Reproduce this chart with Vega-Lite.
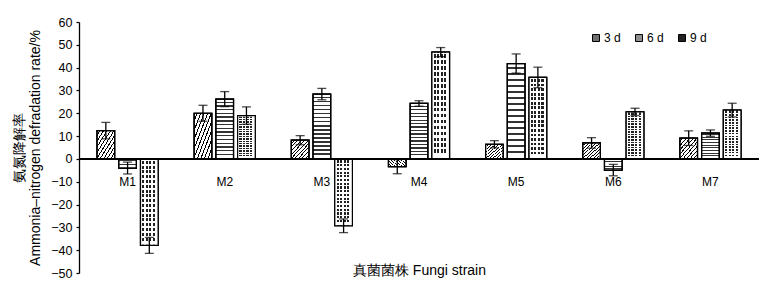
{
  "$schema": "https://vega.github.io/schema/vega-lite/v6.json",
  "autosize": "none",
  "width": 680,
  "height": 251,
  "padding": {"left": 79, "top": 22, "right": 19, "bottom": 21},
  "background": "white",
  "config": {
    "font": "Liberation Sans",
    "view": {"stroke": null},
    "axis": {"labelFont": "Liberation Sans", "titleFont": "Liberation Sans", "labelColor": "black", "titleColor": "black", "titleFontWeight": "normal", "domainColor": "black", "tickColor": "black"},
    "axisY": {"labelOverlap": false, "labelBound": false, "labelFlush": false}
  },
  "data": {
    "values": [
      {"strain": "M1", "day": "3 d", "rate": 12.4, "lo": 8.8, "hi": 16.0},
      {"strain": "M1", "day": "6 d", "rate": -4.0, "lo": -6.6, "hi": -1.4},
      {"strain": "M1", "day": "9 d", "rate": -37.9, "lo": -41.4, "hi": -34.4},
      {"strain": "M2", "day": "3 d", "rate": 20.0, "lo": 16.5, "hi": 23.5},
      {"strain": "M2", "day": "6 d", "rate": 26.2, "lo": 22.9, "hi": 29.5},
      {"strain": "M2", "day": "9 d", "rate": 19.0, "lo": 15.2, "hi": 22.8},
      {"strain": "M3", "day": "3 d", "rate": 8.2, "lo": 6.2, "hi": 10.2},
      {"strain": "M3", "day": "6 d", "rate": 28.4, "lo": 25.9, "hi": 30.9},
      {"strain": "M3", "day": "9 d", "rate": -29.3, "lo": -32.3, "hi": -26.3},
      {"strain": "M4", "day": "3 d", "rate": -3.4, "lo": -6.5, "hi": -0.3},
      {"strain": "M4", "day": "6 d", "rate": 24.3, "lo": 23.1, "hi": 25.5},
      {"strain": "M4", "day": "9 d", "rate": 46.8, "lo": 44.8, "hi": 48.8},
      {"strain": "M5", "day": "3 d", "rate": 6.4, "lo": 4.8, "hi": 8.0},
      {"strain": "M5", "day": "6 d", "rate": 41.8, "lo": 37.6, "hi": 46.0},
      {"strain": "M5", "day": "9 d", "rate": 35.7, "lo": 31.2, "hi": 40.2},
      {"strain": "M6", "day": "3 d", "rate": 7.0, "lo": 4.7, "hi": 9.3},
      {"strain": "M6", "day": "6 d", "rate": -4.9, "lo": -7.4, "hi": -2.4},
      {"strain": "M6", "day": "9 d", "rate": 20.6, "lo": 19.0, "hi": 22.2},
      {"strain": "M7", "day": "3 d", "rate": 9.1, "lo": 5.9, "hi": 12.3},
      {"strain": "M7", "day": "6 d", "rate": 11.3, "lo": 9.9, "hi": 12.7},
      {"strain": "M7", "day": "9 d", "rate": 21.4, "lo": 18.4, "hi": 24.4}
    ]
  },
  "layer": [
    {
      "mark": {"type": "bar", "stroke": "black", "strokeWidth": 1.2},
      "encoding": {
        "x": {
          "field": "strain",
          "type": "nominal",
          "scale": {"paddingInner": 0, "paddingOuter": 0},
          "axis": {
            "title": "真菌菌株 Fungi strain",
            "titleFontSize": 14,
            "titlePadding": 76,
            "labelAngle": 0,
            "labelFontSize": 12,
            "labelPadding": 17,
            "offset": -114,
            "domain": false,
            "ticks": false
          }
        },
        "xOffset": {
          "field": "day",
          "type": "nominal",
          "scale": {"paddingInner": 0.19, "paddingOuter": 0.83}
        },
        "y": {
          "field": "rate",
          "type": "quantitative",
          "scale": {"domain": [-50, 60], "nice": false, "zero": false},
          "axis": {
            "title": ["氨氮降解率", "Ammonia–nitrogen defradation rate/%"],
            "titleFontSize": 14,
            "titleLineHeight": 16.5,
            "titlePadding": 8,
            "values": [-50, -40, -30, -20, -10, 0, 10, 20, 30, 40, 50, 60],
            "tickCount": 12,
            "labelOverlap": false,
            "labelFontSize": 12.5,
            "labelPadding": 4,
            "tickSize": 3,
            "tickWidth": 1.2,
            "domainWidth": 1.3,
            "grid": false
          }
        },
        "fill": {
          "field": "day",
          "type": "nominal",
          "scale": {"domain": ["3 d", "6 d", "9 d"], "range": ["#707070", "#909090", "#222222"]},
          "legend": {
            "title": null,
            "orient": "none",
            "direction": "horizontal",
            "legendX": 511,
            "legendY": 10,
            "padding": 0,
            "symbolType": "square",
            "symbolSize": 49,
            "symbolStrokeColor": "black",
            "symbolStrokeWidth": 1,
            "labelFont": "Liberation Sans",
            "labelFontSize": 12,
            "labelColor": "black",
            "labelOffset": 2,
            "columnPadding": 12
          }
        }
      }
    },
    {
      "mark": {"type": "bar", "stroke": "black", "strokeWidth": 1.2},
      "encoding": {
        "x": {"field": "strain", "type": "nominal"},
        "xOffset": {"field": "day", "type": "nominal"},
        "y": {"field": "rate", "type": "quantitative"},
        "fill": {
          "condition": [
            {"test": "datum.day === '3 d'", "value": {"gradient": "linear", "x1": 0, "y1": 0, "x2": 1, "y2": 1, "stops": [
              {"offset": 0.0, "color": "white"}, {"offset": 0.07, "color": "white"}, {"offset": 0.07, "color": "black"}, {"offset": 0.1, "color": "black"}, {"offset": 0.1, "color": "white"},
              {"offset": 0.17, "color": "white"}, {"offset": 0.17, "color": "black"}, {"offset": 0.2, "color": "black"}, {"offset": 0.2, "color": "white"},
              {"offset": 0.27, "color": "white"}, {"offset": 0.27, "color": "black"}, {"offset": 0.3, "color": "black"}, {"offset": 0.3, "color": "white"},
              {"offset": 0.37, "color": "white"}, {"offset": 0.37, "color": "black"}, {"offset": 0.4, "color": "black"}, {"offset": 0.4, "color": "white"},
              {"offset": 0.47, "color": "white"}, {"offset": 0.47, "color": "black"}, {"offset": 0.5, "color": "black"}, {"offset": 0.5, "color": "white"},
              {"offset": 0.57, "color": "white"}, {"offset": 0.57, "color": "black"}, {"offset": 0.6, "color": "black"}, {"offset": 0.6, "color": "white"},
              {"offset": 0.67, "color": "white"}, {"offset": 0.67, "color": "black"}, {"offset": 0.7, "color": "black"}, {"offset": 0.7, "color": "white"},
              {"offset": 0.77, "color": "white"}, {"offset": 0.77, "color": "black"}, {"offset": 0.8, "color": "black"}, {"offset": 0.8, "color": "white"},
              {"offset": 0.87, "color": "white"}, {"offset": 0.87, "color": "black"}, {"offset": 0.9, "color": "black"}, {"offset": 0.9, "color": "white"},
              {"offset": 1.0, "color": "white"}
            ]}},
            {"test": "datum.day === '6 d'", "value": {"gradient": "linear", "x1": 0, "y1": 0, "x2": 0, "y2": 1, "stops": [
              {"offset": 0.0, "color": "white"}, {"offset": 0.04, "color": "white"}, {"offset": 0.04, "color": "#333"}, {"offset": 0.0625, "color": "#333"}, {"offset": 0.0625, "color": "white"},
              {"offset": 0.1025, "color": "white"}, {"offset": 0.1025, "color": "#333"}, {"offset": 0.125, "color": "#333"}, {"offset": 0.125, "color": "white"},
              {"offset": 0.165, "color": "white"}, {"offset": 0.165, "color": "#333"}, {"offset": 0.1875, "color": "#333"}, {"offset": 0.1875, "color": "white"},
              {"offset": 0.2275, "color": "white"}, {"offset": 0.2275, "color": "#333"}, {"offset": 0.25, "color": "#333"}, {"offset": 0.25, "color": "white"},
              {"offset": 0.29, "color": "white"}, {"offset": 0.29, "color": "#333"}, {"offset": 0.3125, "color": "#333"}, {"offset": 0.3125, "color": "white"},
              {"offset": 0.3525, "color": "white"}, {"offset": 0.3525, "color": "#333"}, {"offset": 0.375, "color": "#333"}, {"offset": 0.375, "color": "white"},
              {"offset": 0.415, "color": "white"}, {"offset": 0.415, "color": "#333"}, {"offset": 0.4375, "color": "#333"}, {"offset": 0.4375, "color": "white"},
              {"offset": 0.4775, "color": "white"}, {"offset": 0.4775, "color": "#333"}, {"offset": 0.5, "color": "#333"}, {"offset": 0.5, "color": "white"},
              {"offset": 0.54, "color": "white"}, {"offset": 0.54, "color": "#333"}, {"offset": 0.5625, "color": "#333"}, {"offset": 0.5625, "color": "white"},
              {"offset": 0.6025, "color": "white"}, {"offset": 0.6025, "color": "#333"}, {"offset": 0.625, "color": "#333"}, {"offset": 0.625, "color": "white"},
              {"offset": 0.665, "color": "white"}, {"offset": 0.665, "color": "#333"}, {"offset": 0.6875, "color": "#333"}, {"offset": 0.6875, "color": "white"},
              {"offset": 0.7275, "color": "white"}, {"offset": 0.7275, "color": "#333"}, {"offset": 0.75, "color": "#333"}, {"offset": 0.75, "color": "white"},
              {"offset": 0.79, "color": "white"}, {"offset": 0.79, "color": "#333"}, {"offset": 0.8125, "color": "#333"}, {"offset": 0.8125, "color": "white"},
              {"offset": 0.8525, "color": "white"}, {"offset": 0.8525, "color": "#333"}, {"offset": 0.875, "color": "#333"}, {"offset": 0.875, "color": "white"},
              {"offset": 0.915, "color": "white"}, {"offset": 0.915, "color": "#333"}, {"offset": 0.9375, "color": "#333"}, {"offset": 0.9375, "color": "white"},
              {"offset": 1.0, "color": "white"}
            ]}},
            {"test": "datum.day === '9 d'", "value": {"gradient": "linear", "x1": 0, "y1": 0, "x2": 0, "y2": 1, "stops": [
              {"offset": 0.0, "color": "white"}, {"offset": 0.022, "color": "white"}, {"offset": 0.022, "color": "rgba(255,255,255,0)"}, {"offset": 0.0556, "color": "rgba(255,255,255,0)"},
              {"offset": 0.0556, "color": "white"}, {"offset": 0.0776, "color": "white"}, {"offset": 0.0776, "color": "rgba(255,255,255,0)"}, {"offset": 0.1111, "color": "rgba(255,255,255,0)"},
              {"offset": 0.1111, "color": "white"}, {"offset": 0.1331, "color": "white"}, {"offset": 0.1331, "color": "rgba(255,255,255,0)"}, {"offset": 0.1667, "color": "rgba(255,255,255,0)"},
              {"offset": 0.1667, "color": "white"}, {"offset": 0.1887, "color": "white"}, {"offset": 0.1887, "color": "rgba(255,255,255,0)"}, {"offset": 0.2222, "color": "rgba(255,255,255,0)"},
              {"offset": 0.2222, "color": "white"}, {"offset": 0.2442, "color": "white"}, {"offset": 0.2442, "color": "rgba(255,255,255,0)"}, {"offset": 0.2778, "color": "rgba(255,255,255,0)"},
              {"offset": 0.2778, "color": "white"}, {"offset": 0.2998, "color": "white"}, {"offset": 0.2998, "color": "rgba(255,255,255,0)"}, {"offset": 0.3333, "color": "rgba(255,255,255,0)"},
              {"offset": 0.3333, "color": "white"}, {"offset": 0.3553, "color": "white"}, {"offset": 0.3553, "color": "rgba(255,255,255,0)"}, {"offset": 0.3889, "color": "rgba(255,255,255,0)"},
              {"offset": 0.3889, "color": "white"}, {"offset": 0.4109, "color": "white"}, {"offset": 0.4109, "color": "rgba(255,255,255,0)"}, {"offset": 0.4444, "color": "rgba(255,255,255,0)"},
              {"offset": 0.4444, "color": "white"}, {"offset": 0.4664, "color": "white"}, {"offset": 0.4664, "color": "rgba(255,255,255,0)"}, {"offset": 0.5, "color": "rgba(255,255,255,0)"},
              {"offset": 0.5, "color": "white"}, {"offset": 0.522, "color": "white"}, {"offset": 0.522, "color": "rgba(255,255,255,0)"}, {"offset": 0.5556, "color": "rgba(255,255,255,0)"},
              {"offset": 0.5556, "color": "white"}, {"offset": 0.5776, "color": "white"}, {"offset": 0.5776, "color": "rgba(255,255,255,0)"}, {"offset": 0.6111, "color": "rgba(255,255,255,0)"},
              {"offset": 0.6111, "color": "white"}, {"offset": 0.6331, "color": "white"}, {"offset": 0.6331, "color": "rgba(255,255,255,0)"}, {"offset": 0.6667, "color": "rgba(255,255,255,0)"},
              {"offset": 0.6667, "color": "white"}, {"offset": 0.6887, "color": "white"}, {"offset": 0.6887, "color": "rgba(255,255,255,0)"}, {"offset": 0.7222, "color": "rgba(255,255,255,0)"},
              {"offset": 0.7222, "color": "white"}, {"offset": 0.7442, "color": "white"}, {"offset": 0.7442, "color": "rgba(255,255,255,0)"}, {"offset": 0.7778, "color": "rgba(255,255,255,0)"},
              {"offset": 0.7778, "color": "white"}, {"offset": 0.7998, "color": "white"}, {"offset": 0.7998, "color": "rgba(255,255,255,0)"}, {"offset": 0.8333, "color": "rgba(255,255,255,0)"},
              {"offset": 0.8333, "color": "white"}, {"offset": 0.8553, "color": "white"}, {"offset": 0.8553, "color": "rgba(255,255,255,0)"}, {"offset": 0.8889, "color": "rgba(255,255,255,0)"},
              {"offset": 0.8889, "color": "white"}, {"offset": 0.9109, "color": "white"}, {"offset": 0.9109, "color": "rgba(255,255,255,0)"}, {"offset": 0.9444, "color": "rgba(255,255,255,0)"},
              {"offset": 0.9444, "color": "white"}, {"offset": 1.0, "color": "white"}
            ]}}
          ],
          "value": "transparent"
        }
      }
    },
    {
      "mark": {"type": "bar", "stroke": "black", "strokeWidth": 1.2},
      "encoding": {
        "x": {"field": "strain", "type": "nominal"},
        "xOffset": {"field": "day", "type": "nominal"},
        "y": {"field": "rate", "type": "quantitative"},
        "fill": {
          "condition": {"test": "datum.day === '9 d'", "value": {"gradient": "linear", "x1": 0, "y1": 0, "x2": 1, "y2": 0, "stops": [
            {"offset": 0.0, "color": "white"}, {"offset": 0.1, "color": "white"}, {"offset": 0.1, "color": "rgba(255,255,255,0)"}, {"offset": 0.22, "color": "rgba(255,255,255,0)"},
            {"offset": 0.22, "color": "white"}, {"offset": 0.3, "color": "white"}, {"offset": 0.3, "color": "rgba(255,255,255,0)"}, {"offset": 0.42, "color": "rgba(255,255,255,0)"},
            {"offset": 0.42, "color": "white"}, {"offset": 0.5, "color": "white"}, {"offset": 0.5, "color": "rgba(255,255,255,0)"}, {"offset": 0.62, "color": "rgba(255,255,255,0)"},
            {"offset": 0.62, "color": "white"}, {"offset": 0.7, "color": "white"}, {"offset": 0.7, "color": "rgba(255,255,255,0)"}, {"offset": 0.82, "color": "rgba(255,255,255,0)"},
            {"offset": 0.82, "color": "white"}, {"offset": 1.0, "color": "white"}
          ]}},
          "value": "transparent"
        }
      }
    },
    {
      "mark": {"type": "rule", "color": "black", "strokeWidth": 1.3},
      "encoding": {
        "y": {"datum": 0, "type": "quantitative"},
        "x": {"value": 0},
        "x2": {"value": 680}
      }
    },
    {
      "mark": {"type": "rule", "color": "black", "strokeWidth": 1.3},
      "encoding": {
        "x": {"field": "strain", "type": "nominal"},
        "xOffset": {"field": "day", "type": "nominal"},
        "y": {"field": "lo", "type": "quantitative"},
        "y2": {"field": "hi"}
      }
    },
    {
      "mark": {"type": "tick", "color": "black", "size": 9, "thickness": 1.3},
      "encoding": {
        "x": {"field": "strain", "type": "nominal"},
        "xOffset": {"field": "day", "type": "nominal"},
        "y": {"field": "lo", "type": "quantitative"}
      }
    },
    {
      "mark": {"type": "tick", "color": "black", "size": 9, "thickness": 1.3},
      "encoding": {
        "x": {"field": "strain", "type": "nominal"},
        "xOffset": {"field": "day", "type": "nominal"},
        "y": {"field": "hi", "type": "quantitative"}
      }
    }
  ]
}
